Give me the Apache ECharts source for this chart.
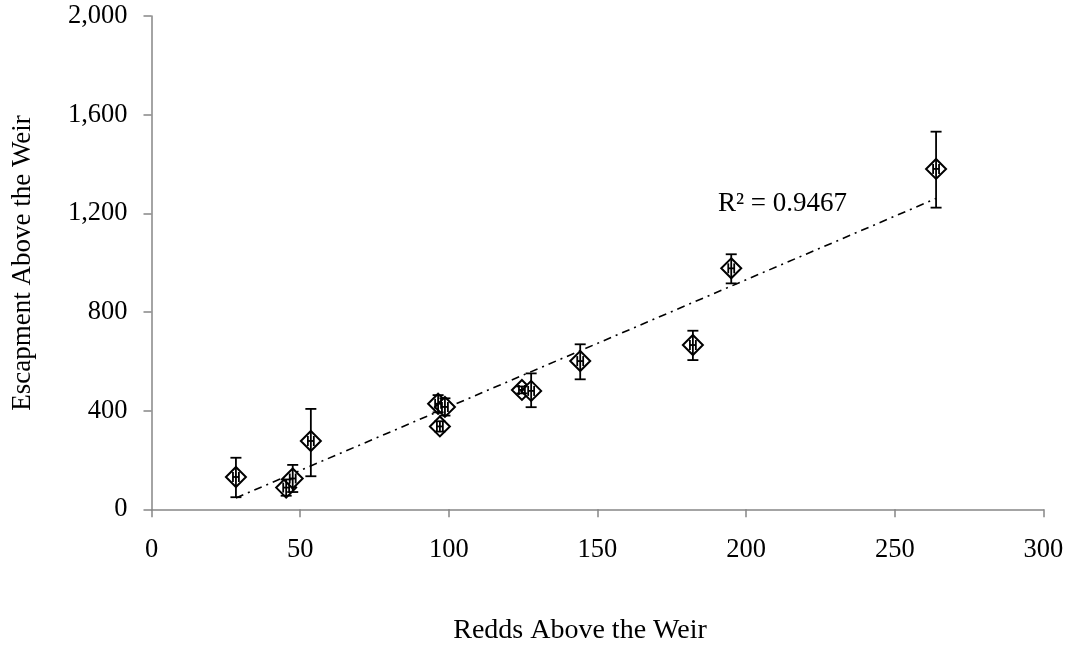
<!DOCTYPE html>
<html>
<head>
<meta charset="utf-8">
<script src="https://cdn.jsdelivr.net/npm/echarts@6/dist/echarts.min.js"></script>
<style>
  html, body { margin: 0; padding: 0; background: #ffffff; }
  #chart { width: 1071px; height: 647px; }
</style>
</head>
<body>
<div id="chart"></div>
<script>
// Redds counted above the weir vs. estimated escapement above the weir
var redds      = [28.4, 45.3, 47.5, 53.6, 96.4, 98.7, 97.0, 124.6, 127.7, 144.2, 182.1, 195.0, 263.9];
var escapement = [131, 88, 125, 277, 428, 415, 336, 484, 480, 601, 666, 977, 1380];
// escapement confidence bounds
var escLow     = [49, 55, 70, 134, 393, 380, 315, 470, 414, 527, 605, 916, 1223];
var escHigh    = [209, 121, 180, 407, 463, 450, 357, 498, 551, 669, 724, 1034, 1531];
// redd count uncertainty (+/-)
var reddErr    = [1, 1, 1, 1, 1, 1, 1, 1, 1, 1, 1, 1, 1];

// linear trend line end points and fit statistic
var trendX = [28.4, 263.9];
var trendY = [46, 1260];
var rSquared = '0.9467';

var xTicks = { min: 0, max: 300, interval: 50 };
var yTicks = { min: 0, max: 2000, interval: 400 };

var FONT = 'Liberation Serif, Times New Roman, serif';

var points = redds.map(function (x, i) { return [x, escapement[i]]; });
var bars = redds.map(function (x, i) {
  return [x, escapement[i], x - reddErr[i], x + reddErr[i], escLow[i], escHigh[i]];
});
var trend = trendX.map(function (x, i) { return [x, trendY[i]]; });

function renderErrorBars(params, api) {
  var x = api.value(0), y = api.value(1);
  var c = api.coord([x, y]);
  var lo = api.coord([x, api.value(4)]);
  var hi = api.coord([x, api.value(5)]);
  var left = api.coord([api.value(2), y]);
  var right = api.coord([api.value(3), y]);
  var cap = 5.5, hcap = 5;
  var style = { stroke: '#000', lineWidth: 1.8, fill: null };
  var lines = [
    [c[0], hi[1], c[0], lo[1]],
    [c[0] - cap, hi[1], c[0] + cap, hi[1]],
    [c[0] - cap, lo[1], c[0] + cap, lo[1]],
    [left[0], c[1], right[0], c[1]],
    [left[0], c[1] - hcap, left[0], c[1] + hcap],
    [right[0], c[1] - hcap, right[0], c[1] + hcap]
  ];
  return {
    type: 'group',
    children: lines.map(function (l) {
      return { type: 'line', shape: { x1: l[0], y1: l[1], x2: l[2], y2: l[3] }, style: style };
    })
  };
}

var axisLineStyle = { color: '#868686', width: 1.5 };

var chart = echarts.init(document.getElementById('chart'), null, { renderer: 'canvas' });
chart.setOption({
  backgroundColor: '#ffffff',
  animation: false,
  grid: { left: 151.5, right: 27.6, top: 16, bottom: 137.7, containLabel: false },
  xAxis: {
    type: 'value',
    min: xTicks.min, max: xTicks.max, interval: xTicks.interval,
    axisLine: { show: true, onZero: false, lineStyle: axisLineStyle },
    axisTick: { show: true, inside: false, length: 8, lineStyle: axisLineStyle },
    splitLine: { show: false },
    axisLabel: { color: '#000', fontFamily: FONT, fontSize: 26.5, margin: 27 }
  },
  yAxis: {
    type: 'value',
    min: yTicks.min, max: yTicks.max, interval: yTicks.interval,
    axisLine: { show: true, lineStyle: axisLineStyle },
    axisTick: { show: true, inside: false, length: 8, lineStyle: axisLineStyle },
    splitLine: { show: false },
    axisLabel: {
      color: '#000', fontFamily: FONT, fontSize: 26.5, margin: 24,
      formatter: function (v) { return v.toLocaleString('en-US'); }
    }
  },
  graphic: [
    {
      type: 'text', x: 580, y: 631,
      style: {
        text: 'Redds Above the Weir', fill: '#000', font: '28px ' + FONT,
        textAlign: 'center', textVerticalAlign: 'middle'
      }
    },
    {
      type: 'text', x: 23, y: 263, rotation: Math.PI / 2,
      style: {
        text: 'Escapment Above the Weir', fill: '#000', font: '27px ' + FONT,
        textAlign: 'center', textVerticalAlign: 'middle'
      }
    },
    {
      type: 'text', x: 718, y: 204,
      style: {
        text: 'R\u00b2 = ' + rSquared, fill: '#000', font: '27px ' + FONT,
        textAlign: 'left', textVerticalAlign: 'middle'
      }
    }
  ],
  series: [
    {
      type: 'line',
      data: trend,
      symbol: 'none',
      silent: true,
      lineStyle: { color: '#000', width: 1.6, type: [8, 5, 2, 5] },
      z: 1
    },
    {
      type: 'scatter',
      data: points,
      symbol: 'diamond',
      symbolSize: 20,
      itemStyle: { color: '#ffffff', borderColor: '#000', borderWidth: 2, opacity: 1 },
      z: 2
    },
    {
      type: 'custom',
      data: bars,
      renderItem: renderErrorBars,
      encode: { x: 0, y: 1 },
      silent: true,
      z: 3
    }
  ]
});
</script>
</body>
</html>
